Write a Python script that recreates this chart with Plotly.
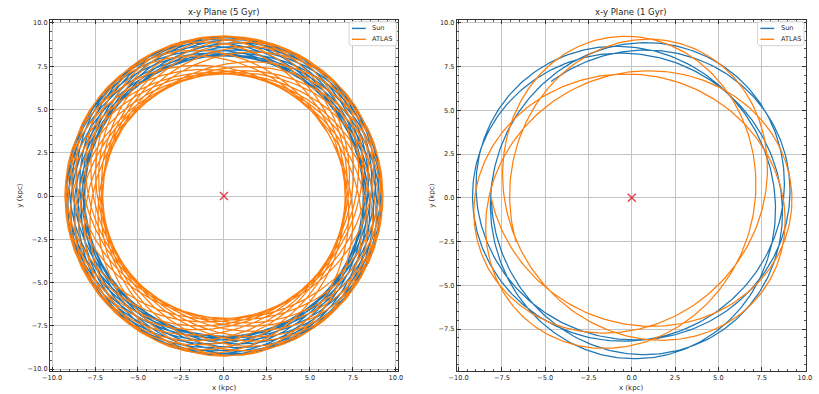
import math
import numpy as np
import plotly.graph_objects as go

# ---------------- values ----------------
panel_titles = ["x-y Plane (5 Gyr)", "x-y Plane (1 Gyr)"]
panel_durations_gyr = [5.0, 1.0]

object_names = ["Sun", "ATLAS"]
object_colors = ["#1f77b4", "#ff7f0e"]
start_radius_kpc = 8.12                      # both start at (-8.12, 0)

# radii (kpc) where each 1-Gyr track crosses the axes: left (y=0, x<0), bottom, right, top
sun_cross_left = [8.17, 8.5, 9.0, 9.11]
sun_cross_bottom = [8.1, 8.35, 8.58, 8.96]
sun_cross_right = [8.25, 8.77, 8.87, 9.15]
sun_cross_top = [8.3, 8.4, 8.74, 9.02]
sun_end_xy = [-4.7, 6.7]

atlas_cross_left = [6.94, 7.41, 8.12, 8.3, 9.05]
atlas_cross_bottom = [7.65, 7.65, 8.7, 8.9]
atlas_cross_right = [6.93, 7.3, 8.06, 8.4]
atlas_cross_top = [7.13, 7.13, 8.87, 9.25]
atlas_end_xy = [-7.3, -2.9]

# candidate orbit shapes (peri / apo radius of each ring, as read)
sun_peri_options = [8.0, 8.06, 8.1]
sun_apo_options = [9.1, 9.15, 9.2]
atlas_peri_options = [6.85, 6.9, 6.95, 7.0, 7.05]
atlas_apo_options = [9.15, 9.2, 9.25, 9.3]
slope_options = [-0.32, -0.26, -0.2, -0.14, -0.08, -0.02, 0.04, 0.1, 0.16, 0.22]

centre_x = [0.0]
centre_y = [0.0]

x_ranges = [[-10.12, 10.12], [-10.1, 10.05]]
y_ranges = [[-10.12, 10.17], [-9.9, 10.15]]
tick_values = [-10.0, -7.5, -5.0, -2.5, 0.0, 2.5, 5.0, 7.5, 10.0]

# ---------------- orbit integration in a power-law rotation curve ----------------
R0 = 8.12


def initial(rp, ra, rs, sgn, beta):
    pot = lambda R: 1.0 / (2 * beta) * (R / R0) ** (2 * beta)
    L2 = 2 * (pot(ra) - pot(rp)) / (1 / rp ** 2 - 1 / ra ** 2)
    E = pot(rp) + L2 / (2 * rp ** 2)
    vr2 = 2 * (E - pot(rs)) - L2 / rs ** 2
    return np.sqrt(L2), sgn * np.sqrt(np.clip(vr2, 0, None))


def rk4_many(R, vR, L, beta, n, dt):
    """unit circular speed at R0; returns R and swept azimuth for every step"""
    R = np.array(R, float); vR = np.array(vR, float)
    L = np.array(L, float); tb = 2 * np.array(beta, float)
    phi = np.zeros_like(R)
    Rs = np.empty((n + 1, R.size)); Ps = np.empty((n + 1, R.size))
    Rs[0] = R; Ps[0] = phi
    L2 = L * L

    def acc(r):
        return L2 / r ** 3 - (r / R0) ** tb / r

    for k in range(n):
        a1 = acc(R); p1 = L / R ** 2
        R2 = R + 0.5 * dt * vR; v2 = vR + 0.5 * dt * a1
        a2 = acc(R2); p2 = L / R2 ** 2
        R3 = R + 0.5 * dt * v2; v3 = vR + 0.5 * dt * a2
        a3 = acc(R3); p3 = L / R3 ** 2
        R4 = R + dt * v3; v4 = vR + dt * a3
        a4 = acc(R4); p4 = L / R4 ** 2
        R = R + dt / 6 * (vR + 2 * v2 + 2 * v3 + v4)
        vR = vR + dt / 6 * (a1 + 2 * a2 + 2 * a3 + a4)
        phi = phi + dt / 6 * (p1 + 2 * p2 + 2 * p3 + p4)
        Rs[k + 1] = R; Ps[k + 1] = phi
    return Rs, Ps


def chamfer(model, ref):
    model = np.asarray(model); ref = np.asarray(ref)
    if model.size == 0:
        return 10.0
    d = np.abs(model[:, None] - ref[None, :])
    return d.min(axis=0).mean() + d.min(axis=1).mean()


def crossing_sets(P, R, p_end):
    ks = np.arange(0, int(p_end // (np.pi / 2)) + 1)
    Rk = np.interp(ks * np.pi / 2, P, R)
    return [Rk[ks % 4 == d] for d in range(4)]


sun_ref = [sun_cross_left, sun_cross_bottom, sun_cross_right, sun_cross_top]
atlas_ref = [atlas_cross_left, atlas_cross_bottom, atlas_cross_right, atlas_cross_top]
sun_end_R = math.hypot(*sun_end_xy)
sun_end_ang = math.atan2(sun_end_xy[1], sun_end_xy[0]) % (2 * math.pi)
sun_sweep = (sun_end_ang - math.pi) % (2 * math.pi) + 3 * 2 * math.pi

# Sun candidates
sun_cfg = [(b, rp, ra, s) for b in slope_options for rp in sun_peri_options
           for ra in sun_apo_options for s in (1, -1)]
Ls, vs = zip(*[initial(rp, ra, start_radius_kpc, s, b) for b, rp, ra, s in sun_cfg])
dtau, ntau = 0.1, 3600
tau = np.arange(ntau + 1) * dtau
SR, SP = rk4_many([start_radius_kpc] * len(sun_cfg), vs, Ls, [c[0] for c in sun_cfg], ntau, dtau)

sun_eval = {}
for j, c in enumerate(sun_cfg):
    t_end = np.interp(sun_sweep, SP[:, j], tau)
    r_end = np.interp(t_end, tau, SR[:, j])
    sets = crossing_sets(SP[:, j], SR[:, j], sun_sweep)
    cost = sum(chamfer(sets[d], sun_ref[d]) for d in range(4)) + abs(r_end - sun_end_R)
    b = c[0]
    if b not in sun_eval or cost < sun_eval[b][0]:
        sun_eval[b] = (cost, t_end, c)

# ATLAS candidates, evaluated over the same time span
atl_cfg = [(b, rp, ra, s) for b in slope_options for rp in atlas_peri_options
           for ra in atlas_apo_options for s in (1, -1)]
La, va = zip(*[initial(rp, ra, start_radius_kpc, s, b) for b, rp, ra, s in atl_cfg])
AR, AP = rk4_many([start_radius_kpc] * len(atl_cfg), va, La, [c[0] for c in atl_cfg], ntau, dtau)

best = None
for j, c in enumerate(atl_cfg):
    b = c[0]
    scost, t_end, sc = sun_eval[b]
    p_end = np.interp(t_end, tau, AP[:, j])
    r_end = np.interp(t_end, tau, AR[:, j])
    sets = crossing_sets(AP[:, j], AR[:, j], p_end)
    ex, ey = r_end * math.cos(math.pi + p_end), r_end * math.sin(math.pi + p_end)
    cost = scost + sum(chamfer(sets[d], atlas_ref[d]) for d in range(4)) \
        + math.hypot(ex - atlas_end_xy[0], ey - atlas_end_xy[1])
    if best is None or cost < best[0]:
        best = (cost, t_end, sc, c)

_, V0, sun_best, atl_best = best          # V0: circular speed at R0 in kpc/Gyr
beta_best = sun_best[0]
L1, v1 = initial(*sun_best[1:3], start_radius_kpc, sun_best[3], beta_best)
L2_, v2_ = initial(*atl_best[1:3], start_radius_kpc, atl_best[3], beta_best)
dt_gyr = 0.001
n5 = int(round(max(panel_durations_gyr) / dt_gyr))
# integrate in the scaled time (tau = V0 * t)
FR, FP = rk4_many([start_radius_kpc] * 2, [v1, v2_], [L1, L2_], [beta_best] * 2, n5, V0 * dt_gyr)

orbits = {}
for p, dur in enumerate(panel_durations_gyr):
    n = int(round(dur / dt_gyr)) + 1
    for i in range(2):
        R = FR[:n, i]; P = FP[:n, i] + math.pi
        orbits[(p, i)] = (R * np.cos(P), R * np.sin(P))

# ---------------- figure ----------------
W, H = 819, 394
x_domains = [[42.7 / W, 396.7 / W], [456.7 / W, 811.7 / W]]
y_domain = [1 - 373.0 / H, 1 - 19.2 / H]
ylabel_x = [12.3, 430.5]
legend_box_px = [[347.0, 395.5], [762.5, 810.0]]     # left/right edge of each legend box
legend_top_px, legend_bottom_px = 20.8, 45.0
legend_row_px = [27.6, 38.6]
font = "DejaVu Sans, Arial, sans-serif"
tc = "#262626"

fig = go.Figure()
for p in range(2):
    xa = "x" if p == 0 else "x2"
    ya = "y" if p == 0 else "y2"
    for i, name in enumerate(object_names):
        xs, ys = orbits[(p, i)]
        fig.add_trace(go.Scatter(
            x=xs, y=ys, mode="lines", name=name,
            line=dict(color=object_colors[i], width=1.25),
            xaxis=xa, yaxis=ya, showlegend=False,
        ))
    fig.add_trace(go.Scatter(
        x=centre_x, y=centre_y, mode="markers", showlegend=False, name="Galactic centre",
        marker=dict(symbol="x-thin", size=8, line=dict(color="rgba(220,30,50,0.85)", width=1.4)),
        xaxis=xa, yaxis=ya,
    ))

axis_common = dict(
    showline=True, linecolor="#333333", linewidth=1, mirror="allticks",
    ticks="inside", ticklen=4, tickwidth=1, tickcolor="#333333",
    tickvals=tick_values, tickformat=".1f",
    showgrid=True, gridcolor="#c4c4c4", gridwidth=1, zeroline=False,
    minor=dict(ticks="inside", ticklen=2, dtick=0.5, tickcolor="#555555", showgrid=False),
    tickfont=dict(family=font, size=6.6, color=tc),
)

fig.update_layout(
    width=W, height=H, margin=dict(l=0, r=0, t=0, b=0),
    paper_bgcolor="white", plot_bgcolor="white",
    font=dict(family=font, color=tc), showlegend=False,
)

for p in range(2):
    sx = "" if p == 0 else "2"
    xa_kw = dict(axis_common, domain=x_domains[p], range=x_ranges[p], anchor="y" + sx)
    ya_kw = dict(axis_common, domain=y_domain, range=y_ranges[p], anchor="x" + sx)
    fig.update_layout(**{"xaxis" + sx: xa_kw, "yaxis" + sx: ya_kw})


def px_x(v):
    return v / W


def px_y(v):
    return 1 - v / H


# legend boxes (matplotlib-like: rounded, light frame) with line samples
for p in range(2):
    x0, x1 = legend_box_px[p]
    y0, y1 = legend_top_px, legend_bottom_px
    r = 2.5
    path = (f"M {px_x(x0 + r)},{px_y(y0)} L {px_x(x1 - r)},{px_y(y0)} "
            f"Q {px_x(x1)},{px_y(y0)} {px_x(x1)},{px_y(y0 + r)} "
            f"L {px_x(x1)},{px_y(y1 - r)} Q {px_x(x1)},{px_y(y1)} {px_x(x1 - r)},{px_y(y1)} "
            f"L {px_x(x0 + r)},{px_y(y1)} Q {px_x(x0)},{px_y(y1)} {px_x(x0)},{px_y(y1 - r)} "
            f"L {px_x(x0)},{px_y(y0 + r)} Q {px_x(x0)},{px_y(y0)} {px_x(x0 + r)},{px_y(y0)} Z")
    fig.add_shape(type="path", path=path, xref="paper", yref="paper",
                  fillcolor="rgba(255,255,255,0.85)", line=dict(color="#d4d4d4", width=1))
    for i, name in enumerate(object_names):
        yy = legend_row_px[i]
        fig.add_shape(type="line", xref="paper", yref="paper",
                      x0=px_x(x0 + 3), x1=px_x(x0 + 17), y0=px_y(yy), y1=px_y(yy),
                      line=dict(color=object_colors[i], width=1.4))
        fig.add_annotation(text=name, xref="paper", yref="paper", x=px_x(x0 + 21.5), y=px_y(yy),
                           showarrow=False, xanchor="left", yanchor="middle",
                           font=dict(family=font, size=6.6, color=tc))

for p in range(2):
    cx = (x_domains[p][0] + x_domains[p][1]) / 2
    fig.add_annotation(text=panel_titles[p], xref="paper", yref="paper", x=cx, y=1 - 11.5 / H,
                       showarrow=False, font=dict(family=font, size=8.5, color=tc),
                       xanchor="center", yanchor="middle")
    fig.add_annotation(text="x (kpc)", xref="paper", yref="paper", x=cx, y=1 - 389.5 / H,
                       showarrow=False, font=dict(family=font, size=7, color=tc),
                       xanchor="center", yanchor="middle")
    fig.add_annotation(text="y (kpc)", xref="paper", yref="paper",
                       x=ylabel_x[p] / W, y=(y_domain[0] + y_domain[1]) / 2,
                       showarrow=False, textangle=-90, font=dict(family=font, size=7, color=tc),
                       xanchor="center", yanchor="middle")

fig.write_html("out.html")
